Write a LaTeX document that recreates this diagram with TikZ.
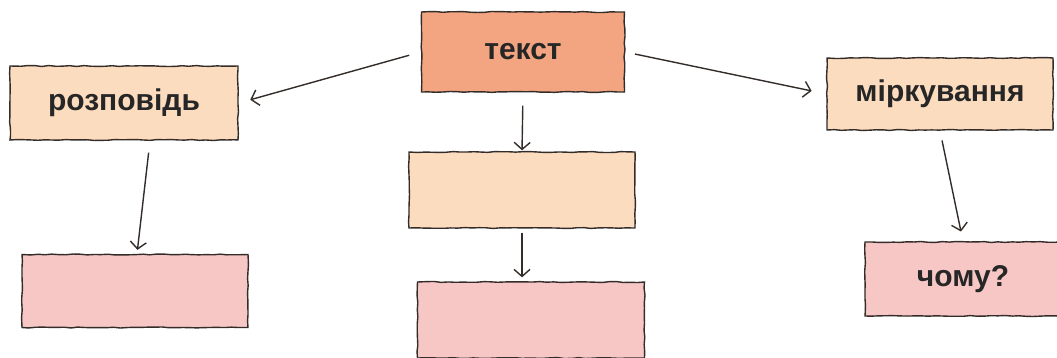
\documentclass[tikz,border=0pt]{standalone}
\usepackage{fontspec}
\setmainfont{Liberation Sans}
\usetikzlibrary{arrows.meta,decorations.pathmorphing}
\definecolor{salmon}{HTML}{F3A582}
\definecolor{peach}{HTML}{FCDCBE}
\definecolor{pinkbox}{HTML}{F6C7C5}
\definecolor{edge}{HTML}{332C29}
\tikzset{
  box/.style={draw=edge, line width=1.4pt, rectangle, inner sep=0pt,
    font=\fontsize{30}{33}\selectfont\bfseries, text=black!85,
    decorate, decoration={random steps, segment length=7pt, amplitude=0.5pt}},
  arr/.style={draw=edge, line width=1.4pt, -{Straight Barb[length=7pt,width=16pt,line width=1.4pt]}}
}
\begin{document}
\begin{tikzpicture}[x=1pt,y=-1pt]
\useasboundingbox (0,0) rectangle (1057,357);
\pgfmathsetseed{7}
\node[box, fill=salmon, minimum width=203pt, minimum height=80pt] (tekst) at (523,52) {текст};
\node[box, fill=peach, minimum width=228pt, minimum height=74pt] (rozp) at (124,103) {розповідь};
\node[box, fill=pinkbox, minimum width=226pt, minimum height=73pt] (bl) at (135,291) {};
\node[box, fill=peach, minimum width=226pt, minimum height=76pt] (mid) at (522,190) {};
\node[box, fill=pinkbox, minimum width=227pt, minimum height=76pt] (bm) at (531,320) {};
\node[box, fill=peach, minimum width=226pt, minimum height=72pt] (mirk) at (940,94) {міркування};
\node[box, fill=pinkbox, minimum width=196pt, minimum height=74pt] (chomu) at (963,279) {чому?};
\draw[arr, shorten <=12pt, shorten >=12pt] (tekst.west) -- (rozp.east);
\draw[arr, shorten <=10pt, shorten >=15pt] (tekst.east) -- (mirk.west);
\draw[arr, shorten <=13pt, shorten >=1pt] (tekst.south) -- (mid.north);
\draw[arr, shorten <=4pt, shorten >=4pt] (mid.south) -- (mid.south |- bm.north);
\draw[arr, shorten <=12pt, shorten >=4pt] ([xshift=26pt]rozp.south) -- ([xshift=2pt]bl.north);
\draw[arr, shorten <=10pt, shorten >=10pt] (mirk.south) -- (chomu.north);
\end{tikzpicture}
\end{document}
